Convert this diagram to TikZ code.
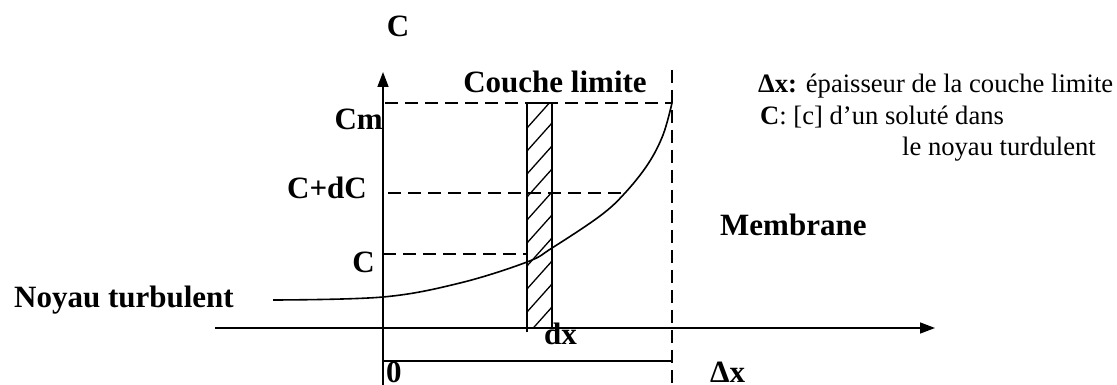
\documentclass[tikz,border=0pt]{standalone}
\usepackage{fontspec}
\setmainfont{Liberation Serif}
\usetikzlibrary{arrows.meta}
\tikzset{
  lbl/.style={inner sep=0pt, font=\fontsize{31}{36}\selectfont\bfseries},
  txt/.style={inner sep=0pt, font=\fontsize{26.6}{31}\selectfont},
  axis/.style={line width=1.6pt, -{Triangle[length=15pt,width=11pt]}},
  solid line/.style={line width=1.6pt},
  dline/.style={line width=1.6pt, dash pattern=on 13pt off 7pt},
  hatch/.style={line width=1.3pt}
}
\begin{document}
\begin{tikzpicture}[x=1pt,y=-1pt]
\useasboundingbox (0,0) rectangle (1117,385);
% coordinates
\coordinate (yb) at (383,385);
\coordinate (yt) at (383,72);
\coordinate (xl) at (215,328);
\coordinate (xr) at (935,328);
\coordinate (mt) at (672,70);
\coordinate (mb) at (672,385);
\coordinate (cmL) at (385,103);
\coordinate (cmR) at (672,103);
\coordinate (cdL) at (388,193);
\coordinate (cdR) at (625,193);
\coordinate (cL) at (383,254);
\coordinate (cR) at (527,254);
\coordinate (bL) at (383,361);
\coordinate (bR) at (672,361);
\coordinate (r1) at (527,103);
\coordinate (r2) at (552,103);
\coordinate (r3) at (552,328);
\coordinate (r4) at (527,332);
% dashed guides
\draw[dline] (mt) -- (mb);
\draw[dline] (cmL) -- (cmR);
\draw[dline] (cdL) -- (cdR);
\draw[dline] (cL) -- (cR);
% hatched strip
\begin{scope}
\clip (527,103) rectangle (552,328);
\foreach \k in {0,...,11}{
  \draw[hatch] (527,{128+\k*23}) -- (552,{100+\k*23});
}
\end{scope}
\draw[solid line] (r4) -- (r1) -- (r2) -- (r3);
% axes
\draw[axis] (yb) -- (yt);
\draw[axis] (xl) -- (xr);
% bottom segment
\draw[solid line] (bL) -- (bR);
% curve
\draw[solid line] plot[smooth, tension=0.6] coordinates {(273,300) (383,297) (460,283) (527,262) (552,248) (600,216) (625,193) (648,164) (663,135) (672,103)};
% labels
\node[lbl, anchor=base] (lC) at (398,37) {C};
\node[lbl, anchor=base] (lCL) at (555,93) {Couche limite};
\node[lbl, anchor=base east] (lCm) at (383,130) {Cm};
\node[lbl, anchor=base east] (lCdC) at (367,198) {C+dC};
\node[lbl, anchor=base east] (lC2) at (375,272) {C};
\node[lbl, anchor=base] (lNT) at (124,307) {Noyau turbulent};
\node[lbl, anchor=base west] (lMem) at (720,235) {Membrane};
\node[lbl, anchor=base west] (ldx) at (544,344) {dx};
\node[lbl, anchor=base west] (l0) at (386,382) {0};
\node[lbl, anchor=base west] (lDx) at (710,382) {Δx};
\node[txt, anchor=base west] (t1) at (758,93) {\textbf{Δx:} épaisseur de la couche limite};
\node[txt, anchor=base west] (t2) at (760,125) {\textbf{C}: [c] d'un soluté dans};
\node[txt, anchor=base west] (t3) at (902,156) {le noyau turdulent};
\end{tikzpicture}
\end{document}
